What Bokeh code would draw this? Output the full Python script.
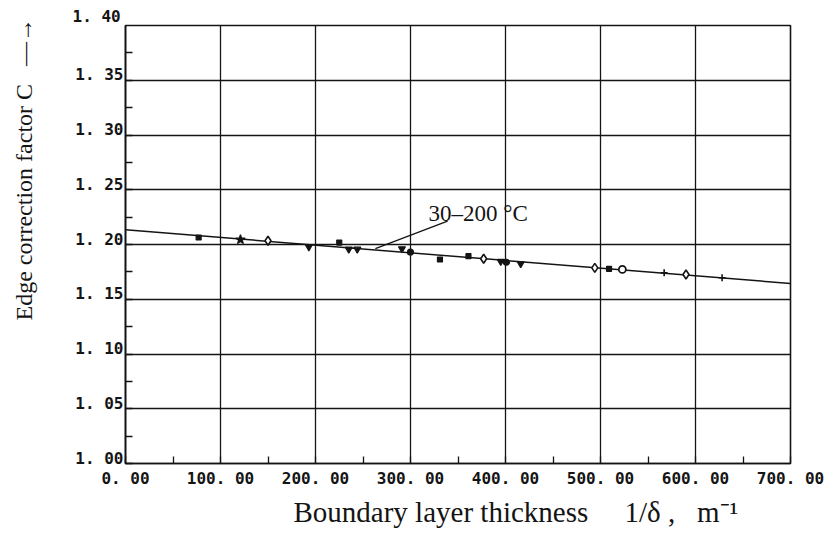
from bokeh.plotting import figure
from bokeh.embed import file_html
from bokeh.resources import INLINE
from bokeh.models import (Range1d, SingleIntervalTicker, FixedTicker, LinearAxis,
                          Label, Title, CustomJSTickFormatter)

# ---------------- data ----------------
x_ticks = [0, 100, 200, 300, 400, 500, 600, 700]
x_tick_labels = ["0. 00", "100. 00", "200. 00", "300. 00", "400. 00", "500. 00", "600. 00", "700. 00"]
y_ticks = [1.00, 1.05, 1.10, 1.15, 1.20, 1.25, 1.30, 1.35, 1.40]
y_tick_labels = ["1. 00", "1. 05", "1. 10", "1. 15", "1. 20", "1. 25", "1. 30", "1. 35", "1. 40"]

sq_x = [77, 225, 331, 361, 509]
sq_y = [1.2064, 1.2018, 1.1863, 1.1893, 1.1778]
tri_x = [193, 235, 244, 291, 395, 416]
tri_y = [1.1979, 1.1957, 1.1957, 1.1961, 1.1845, 1.1824]
dia_x = [150, 377, 494, 590]
dia_y = [1.2034, 1.1870, 1.1787, 1.1726]
circ_x = [300, 401]
circ_y = [1.1930, 1.1838]
ocirc_x = [523]
ocirc_y = [1.1772]
star_x = [121]
star_y = [1.2045]
plus_x = [567, 628]
plus_y = [1.1742, 1.1696]

fit_x = [0, 700]
fit_y = [1.2134, 1.1644]

lead_x = [263, 339]
lead_y = [1.1962, 1.2213]
note_x = 319
note_y = 1.2283
note_text = "30\u2013200 \u00b0C"

x_title = "Boundary layer thickness\u2003 1/\u03b4 ,\u2002 m\u207b\u00b9"
y_title = "Edge correction factor C \u2002\u2014\u2192"

INK = "#141414"
TICK_FONT = "DejaVu Sans Mono"
SERIF = "Liberation Serif"

X0, X1 = x_ticks[0], x_ticks[-1]
Y0, Y1 = y_ticks[0], y_ticks[-1]

p = figure(frame_width=665, frame_height=438,
           x_range=Range1d(X0, X1), y_range=Range1d(Y0, Y1),
           output_backend="svg", toolbar_location=None,
           min_border_left=125, min_border_right=38,
           min_border_top=25, min_border_bottom=70)
p.background_fill_color = "white"
p.border_fill_color = "white"
p.outline_line_color = INK
p.outline_line_width = 1.6


def lookup(vals, labs, pad=0):
    return CustomJSTickFormatter(args=dict(tvals=vals, tlabs=labs, pad=pad), code="""
        let best = 0;
        for (let i = 0; i < tvals.length; i++) {
            if (Math.abs(tvals[i] - tick) < Math.abs(tvals[best] - tick)) best = i;
        }
        return '\\u00a0'.repeat(pad) + tlabs[best];
    """)


p.xaxis.ticker = SingleIntervalTicker(interval=100, num_minor_ticks=2)
p.yaxis.ticker = SingleIntervalTicker(interval=0.05, num_minor_ticks=2)
for ax in (p.xaxis, p.yaxis):
    ax.axis_line_color = INK
    ax.axis_line_width = 1.6
    ax.major_tick_in = 0
    ax.major_tick_out = 0
    ax.minor_tick_in = 7
    ax.minor_tick_out = 0
    ax.minor_tick_line_color = INK
    ax.minor_tick_line_width = 1.3

p.xaxis.formatter = lookup(x_ticks, x_tick_labels)
p.xaxis.major_label_text_font = TICK_FONT
p.xaxis.major_label_text_font_style = "bold"
p.xaxis.major_label_text_font_size = "16px"
p.xaxis.major_label_text_color = INK
p.xaxis.major_label_standoff = 5

# the inner left axis carries only the line and the minor ticks
p.yaxis.formatter = CustomJSTickFormatter(code="return ''")
p.yaxis.major_label_standoff = 0

# an outer left axis carries the labels, which sit on top of their grid lines
lift = 5.5 / 438 * (Y1 - Y0)   # pixels -> data units
p.extra_y_ranges = {"lab": Range1d(Y0 - lift, Y1 - lift)}
lab_axis = LinearAxis(y_range_name="lab",
                      ticker=FixedTicker(ticks=y_ticks[:-1], minor_ticks=[]),
                      formatter=lookup(y_ticks, y_tick_labels, pad=3),
                      axis_line_color=None, major_tick_in=0, major_tick_out=0,
                      minor_tick_in=0, minor_tick_out=0, major_label_standoff=2,
                      major_label_text_font=TICK_FONT, major_label_text_font_style="bold",
                      major_label_text_font_size="16px", major_label_text_color=INK)
p.add_layout(lab_axis, "left")

# the top label lies above the frame, so it is set in the top border
p.add_layout(Title(text=y_tick_labels[-1], align="left", offset=-53, standoff=0,
                   vertical_align="bottom", text_font=TICK_FONT, text_font_style="bold",
                   text_font_size="16px", text_color=INK), "above")

p.grid.grid_line_color = INK
p.grid.grid_line_width = 1.3

# regression line
p.line(fit_x, fit_y, line_color=INK, line_width=1.5)

# data markers
ms = dict(line_color=INK, fill_color=INK, line_width=1.2)
p.scatter(sq_x, sq_y, marker="square", size=5, **ms)
p.scatter(tri_x, tri_y, marker="inverted_triangle", size=7, **ms)
p.scatter(dia_x, dia_y, marker="diamond", size=9, line_color=INK, fill_color="white", line_width=1.6)
p.scatter(circ_x, circ_y, marker="circle", size=6, **ms)
p.scatter(ocirc_x, ocirc_y, marker="circle", size=7, line_color=INK, fill_color="white", line_width=1.8)
p.scatter(star_x, star_y, marker="star", size=10, **ms)
p.scatter(plus_x, plus_y, marker="cross", size=7, line_color=INK, line_width=1.6)

# annotation
p.line(lead_x, lead_y, line_color=INK, line_width=1.3)
p.add_layout(Label(x=note_x, y=note_y, text=note_text, text_font=SERIF,
                   text_font_size="23px", text_color=INK, text_baseline="alphabetic"))

# axis titles
p.add_layout(Title(text=x_title, align="left", offset=168, standoff=6,
                   text_font=SERIF, text_font_size="29px", text_font_style="normal",
                   text_color=INK), "below")
p.add_layout(Title(text=y_title, align="left", offset=143, standoff=14,
                   text_font=SERIF, text_font_size="24px", text_font_style="normal",
                   text_color=INK), "left")

open("out.html", "w").write(file_html(p, INLINE))
